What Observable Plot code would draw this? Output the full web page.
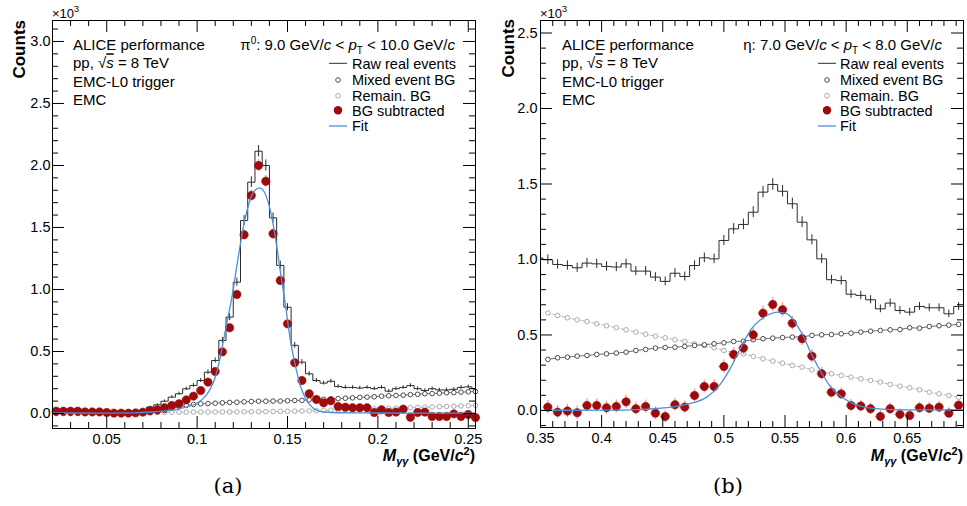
<!DOCTYPE html>
<html><head><meta charset="utf-8">
<script src="https://cdn.jsdelivr.net/npm/d3@7"></script>
<script src="https://cdn.jsdelivr.net/npm/@observablehq/plot@0.6"></script>
<style>
body{margin:0;background:#fff;}
#wrap{position:relative;width:967px;height:506px;overflow:hidden;background:#fff;}
.panel{position:absolute;top:0;}
.cap{position:absolute;width:100px;text-align:center;font-family:"DejaVu Serif",serif;font-size:21px;line-height:26px;top:473px;color:#000;}
</style></head><body>
<div id="wrap">
  <div id="pa" class="panel" style="left:0px"></div>
  <div id="pb" class="panel" style="left:480px"></div>
  <div class="cap" style="left:178px">(a)</div>
  <div class="cap" style="left:678px">(b)</div>
</div>
<script>
// ---------------- Panel (a): pi0, 9 < pT < 10 GeV/c ----------------
const piBinStart = 0.020, piBinWidth = 0.004;           // histogram binning
const piRaw = [0.025,0.025,0.025,0.025,0.02,0.02,0.02,0.015,0.012,0.012,0.012,0.015,0.022,
  0.051,0.07,0.099,0.132,0.159,0.199,0.226,0.266,0.333,0.427,0.589,0.777,1.059,1.556,1.865,2.115,2.0,1.578,
  1.194,0.857,0.55,0.414,0.32,0.266,0.245,0.26,0.218,0.21,0.21,0.205,0.21,0.2,0.21,0.18,0.2,0.21,0.225,0.2,
  0.185,0.2,0.19,0.19,0.195,0.21,0.215,0.2];
const piMixed = [0,0,0,0,0,0,0,0,0,0,0,0.001,0.003,
  0.006,0.013,0.024,0.043,0.056,0.065,0.073,0.078,0.08,0.083,0.086,0.089,0.091,0.094,0.097,0.099,0.099,0.1,
  0.1,0.103,0.105,0.106,0.11,0.112,0.115,0.118,0.12,0.123,0.126,0.13,0.132,0.135,0.14,0.143,0.145,0.148,0.152,0.155,
  0.159,0.161,0.164,0.167,0.169,0.172,0.175,0.177];
const piRemain = [0.004,0.004,0.004,0.004,0.004,0.004,0.004,0.004,0.005,0.005,0.005,0.005,0.006,
  0.007,0.008,0.009,0.01,0.01,0.011,0.011,0.012,0.012,0.012,0.013,0.013,0.013,0.014,0.014,0.015,0.015,0.016,
  0.017,0.018,0.019,0.02,0.021,0.023,0.025,0.027,0.029,0.031,0.033,0.035,0.036,0.038,0.04,0.042,0.043,0.045,0.047,0.049,
  0.051,0.053,0.055,0.057,0.059,0.061,0.063,0.065];
const piSub = [0.019,0.019,0.019,0.019,0.013,0.013,0.013,0.008,0.003,0.003,0.003,0.005,0.011,
  0.024,0.030,0.046,0.065,0.078,0.110,0.140,0.185,0.253,0.339,0.497,0.691,0.960,1.441,1.758,2.0,1.873,1.449,
  1.073,0.723,0.409,0.266,0.159,0.113,0.086,0.102,0.056,0.051,0.046,0.046,0.046,0.008,0.030,0.008,0.011,0.035,-0.030,0.008,
  0.011,-0.024,-0.024,-0.024,-0.003,-0.024,-0.008,-0.033];
const piFitX = [0.02,0.05,0.065,0.075,0.085,0.09,0.095,0.1,0.104,0.107,0.11,0.1129,0.1147,0.117,0.1194,0.1221,0.1258,0.1295,0.132,0.1346,0.137,0.1396,0.1433,0.146,0.1488,0.1515,0.1543,0.157,0.1598,0.1626,0.1663,0.17,0.18,0.2,0.254];
const piFitY = [0.004,0.003,0.005,0.012,0.025,0.038,0.055,0.085,0.13,0.19,0.29,0.46,0.6,0.77,0.95,1.2,1.52,1.73,1.8,1.82,1.79,1.69,1.42,1.15,0.88,0.6,0.39,0.23,0.125,0.065,0.025,0.012,0.006,0.004,0.003];
const piXTicks = [0.05,0.1,0.15,0.2,0.25];
const piYTicks = [0,0.5,1.0,1.5,2.0,2.5,3.0];

// ---------------- Panel (b): eta, 7 < pT < 8 GeV/c ----------------
const etaBinStart = 0.352, etaBinWidth = 0.008;
const etaRawStart = 0.344;   // raw histogram also shows the partial bin at the left edge
const etaRaw = [1.01,
  0.998,0.967,0.96,0.945,0.976,0.971,0.954,0.95,0.971,0.923,0.923,0.883,0.855,0.909,0.887,0.96,1.011,1.004,
  1.126,1.203,1.232,1.313,1.446,1.497,1.452,1.369,1.247,1.13,1.004,0.866,0.86,0.77,0.762,0.733,0.673,0.711,
  0.662,0.651,0.689,0.68,0.68,0.64,0.689];
const etaMixed = [0.338,0.349,0.353,0.36,0.364,0.371,0.375,0.38,0.386,0.397,0.404,0.413,0.417,0.419,0.424,0.43,0.435,0.442,0.448,0.457,0.459,
  0.468,0.475,0.479,0.483,0.486,0.488,0.497,0.501,0.503,0.508,0.512,0.519,0.525,0.53,0.534,0.536,0.548,0.545,0.556,0.561,0.565,0.57];
const etaRemain = [0.645,0.629,0.614,0.6,0.589,0.574,0.561,0.548,0.534,0.519,0.505,0.492,0.481,0.468,0.457,0.442,0.43,0.415,0.397,0.386,0.375,
  0.358,0.342,0.327,0.313,0.298,0.287,0.269,0.254,0.243,0.232,0.221,0.21,0.199,0.188,0.172,0.161,0.15,0.137,0.121,0.11,0.099,0.088];
const etaSub = [0.022,-0.011,-0.004,-0.015,0.033,0.033,0.018,0.026,0.057,0.011,0.026,-0.018,-0.04,0.038,0.022,0.099,0.159,0.159,
  0.291,0.371,0.413,0.501,0.644,0.702,0.667,0.578,0.475,0.36,0.243,0.121,0.11,0.033,0.029,0.011,-0.04,0.011,-0.026,-0.033,
  0.018,0.015,0.022,-0.018,0.035];
const etaFitX = [0.35,0.40,0.43,0.445,0.459,0.4727,0.4863,0.4972,0.5054,0.5135,0.5225,0.5299,0.5381,0.5435,0.5517,0.5571,0.5653,0.5722,0.5803,0.5885,0.5967,0.6062,0.6198,0.6443,0.696];
const etaFitY = [0.001,0.002,0.006,0.013,0.024,0.046,0.09,0.175,0.28,0.41,0.54,0.6,0.64,0.651,0.64,0.596,0.485,0.364,0.243,0.144,0.088,0.044,0.015,0.004,0.003];
const etaXTicks = [0.35,0.4,0.45,0.5,0.55,0.6,0.65];
const etaYTicks = [0,0.5,1.0,1.5,2.0,2.5];

const legendLabels = ["Raw real events","Mixed event BG","Remain. BG","BG subtracted","Fit"];
const infoLines = ["ALICE performance","pp, √s = 8 TeV","EMC-L0 trigger","EMC"];

const C = {raw:"#2b2b2b", mixed:"#4a4a4a", remain:"#ababab", sub:"#9e0b0b", subErr:"#e39a9a", fit:"#4a90dc"};
const FONT = '"Liberation Sans", Arial, Helvetica, sans-serif';

function minorTicks(lo, hi, step, majorStep) {
  return d3.range(Math.round(lo/step), Math.round(hi/step)+1).map(i => +(i*step).toFixed(4))
    .filter(v => Math.abs(v/majorStep - Math.round(v/majorStep)) > 1e-6);
}

function addText(svg, x, y, parts, attrs = {}) {
  const t = d3.select(svg).append("text").attr("x", x).attr("y", y)
    .attr("font-family", FONT).attr("fill", "#000").attr("text-anchor", "start")
    .style("text-anchor", attrs["text-anchor"] || "start");
  for (const [k, v] of Object.entries(attrs)) t.attr(k, v);
  for (const p of parts) {
    const s = t.append("tspan").text(p.t);
    if (p.i) s.attr("font-style", "italic");
    if (p.b) s.attr("font-weight", "bold");
    if (p.dy) s.attr("dy", p.dy);
    if (p.fs) s.attr("font-size", p.fs);
    if (p.o) s.attr("text-decoration", "overline");
  }
  return t;
}

function drawPanel(cfg) {
  const {el, width, height, mL, mR, mT, mB, xDomain, yDomain, xTicks, yTicks, xMinor, yMinor,
         binStart, binWidth, rawStart, raw, mixed, remain, sub, fitX, fitY, labPad} = cfg;
  const fw = width - mL - mR, fh = height - mT - mB;
  const hw = binWidth / 2;
  const centers = sub.map((_, i) => binStart + hw + i * binWidth);
  const rawData = raw.map((v, i) => ({x: rawStart + hw + i * binWidth, y: v, e: Math.sqrt(Math.max(v, 0) * 1000) / 1000}));
  const steps = rawData.map(d => ({x: d.x - hw, y: d.y}));
  steps.push({x: rawData[rawData.length - 1].x + hw, y: rawData[rawData.length - 1].y});
  const mixedData = mixed.map((v, i) => ({x: centers[i], y: v}));
  const remainData = remain.map((v, i) => ({x: centers[i], y: v}));
  const off = raw.length - sub.length;
  const subData = sub.map((v, i) => {
    const tot = raw[i + off] * 1000 + (mixed[i] + remain[i]) * 1000;
    return {x: centers[i], y: v, e: Math.sqrt(Math.max(tot, 0)) / 1000};
  });
  const fitData = fitX.map((x, i) => ({x, y: fitY[i]}));

  const svg = Plot.plot({
    width, height, marginLeft: mL, marginRight: mR, marginTop: mT, marginBottom: mB,
    x: {domain: xDomain}, y: {domain: yDomain},
    style: {fontFamily: FONT, fontSize: "14.5px", color: "#000", background: "transparent", overflow: "visible"},
    marks: [
      Plot.line(remainData, {x: "x", y: "y", stroke: C.remain, strokeWidth: 0.9, strokeDasharray: "3,2", clip: true}),
      Plot.dot(remainData, {x: "x", y: "y", r: 2.3, stroke: C.remain, fill: "white", strokeWidth: 1}),
      Plot.line(mixedData, {x: "x", y: "y", stroke: C.mixed, strokeWidth: 0.8, clip: true}),
      Plot.dot(mixedData, {x: "x", y: "y", r: 2.3, stroke: C.mixed, fill: "white", strokeWidth: 1}),
      Plot.line(steps, {x: "x", y: "y", curve: "step-after", stroke: C.raw, strokeWidth: 1, clip: true}),
      Plot.ruleX(rawData, {x: "x", y1: d => d.y - d.e, y2: d => d.y + d.e, stroke: C.raw, strokeWidth: 1, clip: true}),
      Plot.ruleX(subData, {x: "x", y1: d => d.y - d.e, y2: d => d.y + d.e, stroke: C.subErr, strokeWidth: 1.2}),
      Plot.ruleY(subData, {y: "y", x1: d => d.x - hw, x2: d => d.x + hw, stroke: C.subErr, strokeWidth: 1.2}),
      Plot.dot(subData, {x: "x", y: "y", r: 4.2, fill: C.sub, stroke: C.sub, strokeWidth: 0.5}),
      Plot.line(fitData, {x: "x", y: "y", curve: "monotone-x", stroke: C.fit, strokeWidth: 1.3, clip: true}),
      Plot.tickY(yTicks, {stroke: "#000", insetRight: fw - 12}),
      Plot.tickY(yTicks, {stroke: "#000", insetLeft: fw - 12}),
      Plot.tickY(yMinor, {stroke: "#000", insetRight: fw - 6}),
      Plot.tickY(yMinor, {stroke: "#000", insetLeft: fw - 6}),
      Plot.tickX(xTicks, {stroke: "#000", insetTop: fh - 12}),
      Plot.tickX(xTicks, {stroke: "#000", insetBottom: fh - 12}),
      Plot.tickX(xMinor, {stroke: "#000", insetTop: fh - 6}),
      Plot.tickX(xMinor, {stroke: "#000", insetBottom: fh - 6}),
      Plot.axisY(yTicks, {tickSize: 0, tickPadding: labPad, tickFormat: d3.format(".1f"), label: null}),
      Plot.axisX(xTicks, {tickSize: 0, tickPadding: 5, tickFormat: d => String(d), label: null}),
      Plot.frame({stroke: "#000", strokeWidth: 1})
    ]
  });
  document.getElementById(el).appendChild(svg);
  return {svg, fw, fh};
}

function decorate(svg, o) {
  const {mL, right, countsX, countsY, infoX, titleParts, titleEnd, legMark, legText} = o;
  addText(svg, mL, 17.5, [{t: "×10"}, {t: "3", dy: -5.5, fs: 9}], {"font-size": 13});
  addText(svg, 0, 0, [{t: "Counts"}], {"font-size": 17, "font-weight": "bold", "text-anchor": "end",
    transform: `translate(${countsX},${countsY}) rotate(-90)`});
  addText(svg, right, 461, [
    {t: "M", b: true, i: true}, {t: "γγ", i: true, dy: 4, fs: 11},
    {t: " (GeV/", b: true, dy: -4}, {t: "c", b: true, i: true}, {t: "2", b: true, dy: -6, fs: 11}, {t: ")", b: true, dy: 6}
  ], {"font-size": 16, "font-weight": "bold", "text-anchor": "end"});
  const base = [49.5, 68.3, 86.5, 104.5];
  addText(svg, infoX, base[0], [{t: infoLines[0]}], {"font-size": 15});
  addText(svg, infoX, base[1], [{t: "pp, √"}, {t: "s", i: true, o: true}, {t: " = 8 TeV"}], {"font-size": 15});
  addText(svg, infoX, base[2], [{t: infoLines[2]}], {"font-size": 15});
  addText(svg, infoX, base[3], [{t: infoLines[3]}], {"font-size": 15});
  addText(svg, titleEnd, base[0], titleParts, {"font-size": 15, "text-anchor": "end"});
  const rows = [63.3, 80, 95.7, 110.3, 126];
  const g = d3.select(svg).append("g");
  g.append("line").attr("x1", legMark - 9).attr("x2", legMark + 9).attr("y1", rows[0]).attr("y2", rows[0]).attr("stroke", C.raw);
  g.append("circle").attr("cx", legMark).attr("cy", rows[1]).attr("r", 2.3).attr("fill", "white").attr("stroke", C.mixed);
  g.append("circle").attr("cx", legMark).attr("cy", rows[2]).attr("r", 2.3).attr("fill", "white").attr("stroke", C.remain);
  g.append("circle").attr("cx", legMark).attr("cy", rows[3]).attr("r", 4.2).attr("fill", C.sub);
  g.append("line").attr("x1", legMark - 9).attr("x2", legMark + 9).attr("y1", rows[4]).attr("y2", rows[4]).attr("stroke", C.fit).attr("stroke-width", 1.3);
  legendLabels.forEach((s, i) => addText(svg, legText, rows[i] + 5.2, [{t: s}], {"font-size": 14.5}));
}

const A = {el: "pa", width: 480, height: 470, mL: 52, mR: 5, mT: 20, mB: 42,
  xDomain: [0.02, 0.254], yDomain: [-0.121, 3.169], xTicks: piXTicks, yTicks: piYTicks,
  xMinor: minorTicks(0.02, 0.25, 0.01, 0.05), yMinor: minorTicks(-0.1, 3.1, 0.1, 0.5),
  binStart: piBinStart, binWidth: piBinWidth, rawStart: piBinStart,
  raw: piRaw, mixed: piMixed, remain: piRemain, sub: piSub, fitX: piFitX, fitY: piFitY, labPad: 2};
const pa = drawPanel(A);
decorate(pa.svg, {mL: 52, right: 475, countsX: 25, countsY: 20, infoX: 73,
  titleParts: [{t: "π"}, {t: "0", dy: -6, fs: 10}, {t: ": 9.0 GeV/", dy: 6}, {t: "c", i: true}, {t: " < "},
    {t: "p", i: true}, {t: "T", dy: 4, fs: 10}, {t: " < 10.0 GeV/", dy: -4}, {t: "c", i: true}],
  titleEnd: 455, legMark: 338, legText: 352});

const B = {el: "pb", width: 487, height: 470, mL: 60, mR: 4, mT: 20, mB: 43,
  xDomain: [0.35, 0.696], yDomain: [-0.113, 2.583], xTicks: etaXTicks, yTicks: etaYTicks,
  xMinor: minorTicks(0.35, 0.69, 0.01, 0.05), yMinor: minorTicks(-0.1, 2.5, 0.1, 0.5),
  binStart: etaBinStart, binWidth: etaBinWidth, rawStart: etaRawStart,
  raw: etaRaw, mixed: etaMixed, remain: etaRemain, sub: etaSub, fitX: etaFitX, fitY: etaFitY, labPad: 3};
const pb = drawPanel(B);
decorate(pb.svg, {mL: 60, right: 483, countsX: 34, countsY: 19, infoX: 82,
  titleParts: [{t: "η: 7.0 GeV/"}, {t: "c", i: true}, {t: " < "},
    {t: "p", i: true}, {t: "T", dy: 4, fs: 10}, {t: " < 8.0 GeV/", dy: -4}, {t: "c", i: true}],
  titleEnd: 462, legMark: 347, legText: 360});
</script>
</body></html>
